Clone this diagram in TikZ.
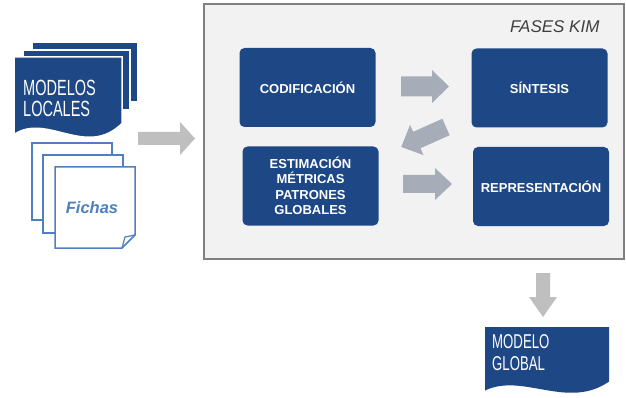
\documentclass[tikz,border=0pt]{standalone}
\usepackage{fontspec}
\setmainfont{Liberation Sans}
\newfontfamily\narrowfont[FakeStretch=0.66]{Liberation Sans}

\definecolor{kimblue}{HTML}{1E4785}
\definecolor{flowgray}{HTML}{A7ADB8}
\definecolor{sidegray}{HTML}{BFBFBF}
\definecolor{fichablue}{HTML}{4F7FC0}
\definecolor{framefill}{HTML}{F2F2F2}
\definecolor{framegray}{HTML}{808080}
\definecolor{titlegray}{HTML}{3F3F3F}

\begin{document}
\begin{tikzpicture}[x=1pt, y=-1pt,
    phase/.style={rectangle, fill=kimblue, text=white, rounded corners=5pt, minimum width=136pt, minimum height=79pt, align=center, font=\fontsize{13}{15.5}\selectfont\bfseries},
    doctext/.style={text=white, align=left, anchor=north west, inner sep=0pt},
    sheet/.style={fill=white, draw=fichablue, line width=1.5pt},
    stack/.style={fill=kimblue, draw=white, line width=1.5pt},
    pics/blockarrow/.style n args={4}{code={
        \path[pic actions] (0,-#2) -- ({#1-#4},-#2) -- ({#1-#4},-#3) -- (#1,0) -- ({#1-#4},#3) -- ({#1-#4},#2) -- (0,#2) -- cycle;
    }},
    pics/docsheet/.style 2 args={code={
        \path[pic actions] (0,0) -- (#1,0) -- (#1,{0.802*#2}) .. controls ({0.666*#1},{1.226*#2}) and ({0.306*#1},{0.667*#2}) .. (0,{0.934*#2}) -- cycle;
    }}
]
\useasboundingbox (0,0) rectangle (626,398);

% Marco de las fases
\node[draw=framegray, fill=framefill, line width=1.3pt, minimum width=420pt, minimum height=255pt, inner sep=0pt] (fases) at (414,131.5) {};
\node[anchor=base east, font=\fontsize{17}{20}\selectfont\itshape, text=titlegray] (titulo) at (603,33) {FASES KIM};

% Fases
\node[phase] (cod) at (307.5,87.5) {CODIFICACIÓN};
\node[phase] (sin) at (539.5,88) {SÍNTESIS};
\node[phase] (est) at (310.5,186) {ESTIMACIÓN\\MÉTRICAS\\PATRONES\\GLOBALES};
\node[phase] (rep) at (541,186.5) {REPRESENTACIÓN};

% Flechas internas
\pic[fill=flowgray] (flecha1) at (401,86.5) {blockarrow={48}{10}{16.5}{17}};
\pic[fill=flowgray, rotate=204] (flecha2) at (446,127) {blockarrow={49}{9}{16.5}{17}};
\pic[fill=flowgray] (flecha3) at (403,184) {blockarrow={49}{9}{16}{17}};

% Modelos locales
\filldraw[stack] (32,42) rectangle (138,102);
\filldraw[stack] (23,50) rectangle (130,110);
\pic[stack] (locdoc) at (14,57) {docsheet={108}{83}};
\node[doctext, font=\narrowfont\fontsize{22}{21}\selectfont] (locales) at (23,80) {MODELOS\\LOCALES};

% Fichas
\filldraw[sheet] (32,143) rectangle (112,220);
\filldraw[sheet] (43,155) rectangle (123,233);
\filldraw[sheet] (55,167) -- (135,167) -- (135,235) -- (122,248) -- (55,248) -- cycle;
\draw[fichablue, line width=1.2pt, line join=round] (135,235) -- (125,237) -- (122,248);
\node[font=\fontsize{16.5}{19}\selectfont\bfseries\itshape, text=fichablue] (fichas) at (92,208) {Fichas};

% Entrada y salida
\pic[fill=sidegray] (entrada) at (138,138.5) {blockarrow={57}{6.5}{16.5}{15}};
\pic[fill=sidegray, rotate=-90] (salida) at (543,273) {blockarrow={44}{7}{14}{20}};

% Modelo global
\pic[fill=kimblue] (globdoc) at (485,327) {docsheet={124}{68}};
\node[doctext, font=\narrowfont\fontsize{20}{22.7}\selectfont] (global) at (492,334) {MODELO\\GLOBAL};
\end{tikzpicture}
\end{document}
